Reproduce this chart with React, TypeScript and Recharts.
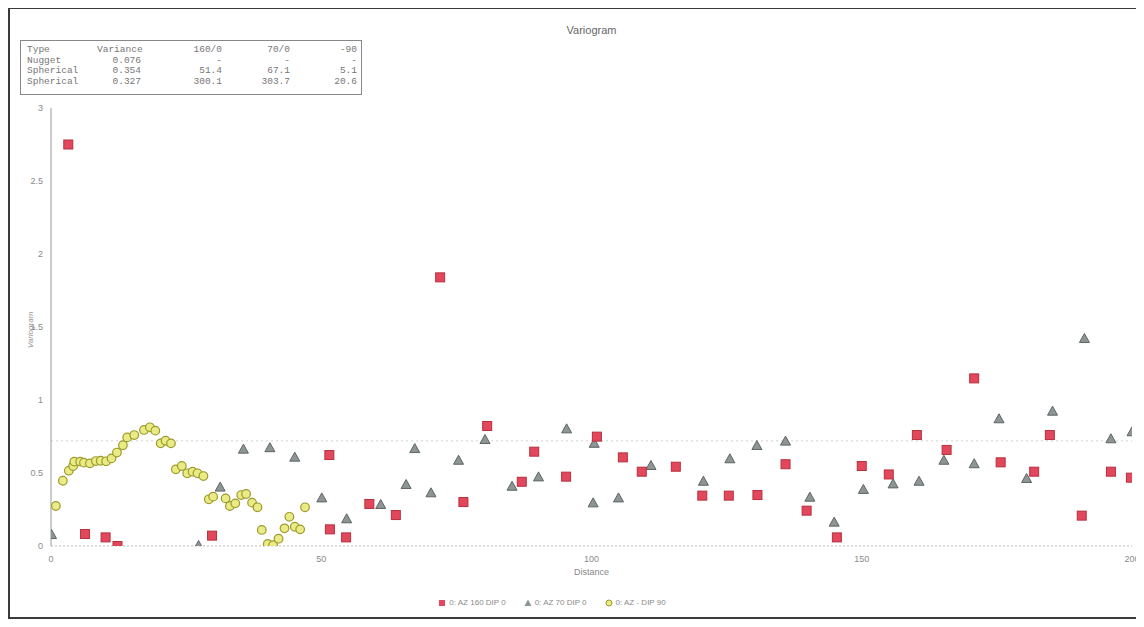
import { ScatterChart, Scatter, XAxis, YAxis, ReferenceLine } from "recharts";

const xTicks = [0, 50, 100, 150, 200];
const yTicks = [0, 0.5, 1, 1.5, 2, 2.5, 3];
const sillLevel = 0.72;

const seriesNames = ["0: AZ 160 DIP 0", "0: AZ 70 DIP 0", "0: AZ - DIP 90"];

// red squares
const az160 = [
  { d: 3.2, g: 2.75 }, { d: 6.3, g: 0.082 }, { d: 10.1, g: 0.059 }, { d: 12.3, g: 0.0 },
  { d: 29.8, g: 0.071 }, { d: 51.5, g: 0.623 }, { d: 51.6, g: 0.114 }, { d: 54.6, g: 0.059 },
  { d: 58.9, g: 0.288 }, { d: 63.8, g: 0.212 }, { d: 72.0, g: 1.84 }, { d: 76.3, g: 0.301 },
  { d: 80.7, g: 0.822 }, { d: 87.1, g: 0.44 }, { d: 89.4, g: 0.646 }, { d: 95.3, g: 0.475 },
  { d: 101.0, g: 0.749 }, { d: 105.8, g: 0.607 }, { d: 109.3, g: 0.509 }, { d: 115.6, g: 0.543 },
  { d: 120.5, g: 0.345 }, { d: 125.4, g: 0.345 }, { d: 130.7, g: 0.349 }, { d: 135.9, g: 0.56 },
  { d: 139.8, g: 0.242 }, { d: 145.4, g: 0.059 }, { d: 150.0, g: 0.548 }, { d: 155.0, g: 0.49 },
  { d: 160.2, g: 0.76 }, { d: 165.7, g: 0.658 }, { d: 170.8, g: 1.148 }, { d: 175.7, g: 0.573 },
  { d: 181.9, g: 0.509 }, { d: 184.8, g: 0.76 }, { d: 190.7, g: 0.208 }, { d: 196.1, g: 0.509 },
  { d: 199.8, g: 0.468 },
];

// grey triangles
const az70 = [
  { d: 0.1, g: 0.075 }, { d: 27.3, g: 0.0 }, { d: 31.3, g: 0.4 }, { d: 35.6, g: 0.66 },
  { d: 40.5, g: 0.67 }, { d: 45.1, g: 0.605 }, { d: 50.1, g: 0.326 }, { d: 54.7, g: 0.183 },
  { d: 61.0, g: 0.281 }, { d: 65.7, g: 0.418 }, { d: 67.3, g: 0.664 }, { d: 70.3, g: 0.361 },
  { d: 75.4, g: 0.584 }, { d: 80.3, g: 0.726 }, { d: 85.3, g: 0.406 }, { d: 90.2, g: 0.47 },
  { d: 95.4, g: 0.799 }, { d: 100.3, g: 0.292 }, { d: 100.5, g: 0.7 }, { d: 105.0, g: 0.326 },
  { d: 111.0, g: 0.548 }, { d: 120.7, g: 0.44 }, { d: 125.6, g: 0.594 }, { d: 130.6, g: 0.685 },
  { d: 135.9, g: 0.715 }, { d: 140.4, g: 0.331 }, { d: 144.9, g: 0.16 }, { d: 150.3, g: 0.384 },
  { d: 155.8, g: 0.422 }, { d: 160.6, g: 0.44 }, { d: 165.2, g: 0.584 }, { d: 170.8, g: 0.56 },
  { d: 175.4, g: 0.868 }, { d: 180.5, g: 0.459 }, { d: 185.3, g: 0.92 }, { d: 191.2, g: 1.418 },
  { d: 196.1, g: 0.731 }, { d: 200.0, g: 0.779 },
];

// yellow circles
const dip90 = [
  { d: 0.9, g: 0.274 }, { d: 2.2, g: 0.447 }, { d: 3.3, g: 0.516 }, { d: 4.1, g: 0.548 },
  { d: 4.3, g: 0.578 }, { d: 5.4, g: 0.578 }, { d: 6.1, g: 0.571 }, { d: 7.2, g: 0.566 },
  { d: 8.3, g: 0.582 }, { d: 9.2, g: 0.584 }, { d: 10.2, g: 0.58 }, { d: 11.2, g: 0.6 },
  { d: 12.2, g: 0.64 }, { d: 13.3, g: 0.69 }, { d: 14.1, g: 0.744 }, { d: 15.4, g: 0.76 },
  { d: 17.2, g: 0.795 }, { d: 18.3, g: 0.813 }, { d: 19.3, g: 0.79 }, { d: 20.3, g: 0.703 },
  { d: 21.2, g: 0.721 }, { d: 22.2, g: 0.703 }, { d: 23.1, g: 0.525 }, { d: 24.2, g: 0.548 },
  { d: 25.2, g: 0.498 }, { d: 26.2, g: 0.509 }, { d: 27.1, g: 0.498 }, { d: 28.2, g: 0.479 },
  { d: 29.2, g: 0.32 }, { d: 30.0, g: 0.338 }, { d: 32.3, g: 0.326 }, { d: 33.1, g: 0.274 },
  { d: 34.1, g: 0.292 }, { d: 35.2, g: 0.349 }, { d: 36.1, g: 0.356 }, { d: 37.2, g: 0.297 },
  { d: 38.2, g: 0.265 }, { d: 39.0, g: 0.11 }, { d: 40.1, g: 0.014 }, { d: 41.1, g: 0.005 },
  { d: 42.1, g: 0.05 }, { d: 43.2, g: 0.121 }, { d: 44.1, g: 0.2 }, { d: 45.1, g: 0.132 },
  { d: 46.1, g: 0.114 }, { d: 47.0, g: 0.265 },
];

const modelHeader = ["Type", "Variance", "160/0", "70/0", "-90"];
const modelRows = [
  ["Nugget", "0.076", "-", "-", "-"],
  ["Spherical", "0.354", "51.4", "67.1", "5.1"],
  ["Spherical", "0.327", "300.1", "303.7", "20.6"],
];

const RED = "#e3475b";
const RED_EDGE = "#b5303f";
const GREY = "#8d9595";
const GREY_EDGE = "#5d6565";
const YEL = "#ebeb85";
const YEL_EDGE = "#9b9b2e";

const SquareDot = (p: any) => (
  <rect x={p.cx - 4.5} y={p.cy - 4.5} width={9} height={9} fill={RED} stroke={RED_EDGE} strokeWidth={1} />
);
const TriDot = (p: any) => (
  <path
    d={`M${p.cx},${p.cy - 5.5} L${p.cx + 5},${p.cy + 3.5} L${p.cx - 5},${p.cy + 3.5} Z`}
    fill={GREY}
    stroke={GREY_EDGE}
    strokeWidth={1}
  />
);
const CircleDot = (p: any) => (
  <circle cx={p.cx} cy={p.cy} r={4.3} fill={YEL} stroke={YEL_EDGE} strokeWidth={1.2} />
);

const tickStyle = { fontSize: 9, fill: "#8a8a8a", fontFamily: "Liberation Sans" };
const colRight = [false, true, true, true, true];
const colWidths = [70, 44, 81, 68, 67];

function ModelTable() {
  const rows = [modelHeader, ...modelRows];
  return (
    <div
      style={{
        position: "absolute",
        left: 20,
        top: 40,
        width: 342,
        height: 55,
        border: "1px solid #888",
        background: "#fff",
        fontFamily: "Liberation Mono",
        fontSize: 9.5,
        lineHeight: "10.5px",
        color: "#777",
        padding: "4px 6px",
        boxSizing: "border-box",
      }}
    >
      {rows.map((r, i) => (
        <div key={i} style={{ display: "flex" }}>
          {r.map((c, j) => (
            <div key={j} style={{ width: colWidths[j], textAlign: colRight[j] ? "right" : "left", flexShrink: 0 }}>
              {c}
            </div>
          ))}
        </div>
      ))}
    </div>
  );
}

function LegendRow() {
  const icons = [
    <rect x={1} y={1} width={6} height={6} fill={RED} />,
    <path d="M4,0.5 L7.5,7 L0.5,7 Z" fill={GREY} />,
    <circle cx={4} cy={4} r={3} fill={YEL} stroke={YEL_EDGE} />,
  ];
  return (
    <div
      style={{
        position: "absolute",
        left: 0,
        top: 598,
        width: 1144,
        display: "flex",
        justifyContent: "center",
        gap: 18,
        fontFamily: "Liberation Sans",
        fontSize: 8,
        color: "#8a8a8a",
        paddingRight: 40,
        boxSizing: "border-box",
      }}
    >
      {seriesNames.map((n, i) => (
        <div key={n} style={{ display: "flex", alignItems: "center", gap: 3 }}>
          <svg width={8} height={8}>{icons[i]}</svg>
          <span>{n}</span>
        </div>
      ))}
    </div>
  );
}

export default function App() {
  return (
    <div style={{ position: "relative", width: 1144, height: 627, margin: -8, background: "#fff", overflow: "hidden" }}>
      <div
        style={{
          position: "absolute",
          left: 8,
          top: 7,
          width: 1150,
          height: 612,
          border: "2px solid #3a3a3a",
          boxSizing: "border-box",
        }}
      />
      <div
        style={{
          position: "absolute",
          left: 0,
          top: 24,
          width: 1183,
          textAlign: "center",
          fontFamily: "Liberation Sans",
          fontSize: 11,
          color: "#666",
        }}
      >
        Variogram
      </div>
      <div
        style={{
          position: "absolute",
          left: 30,
          top: 330,
          transform: "translate(-50%, -50%) rotate(-90deg)",
          fontFamily: "Liberation Sans",
          fontStyle: "italic",
          fontSize: 8,
          color: "#999",
        }}
      >
        Variogram
      </div>
      <div style={{ position: "absolute", left: 0, top: 0 }}>
        <ScatterChart width={1144} height={627} margin={{ top: 108, right: 12, bottom: 51, left: 21 }}>
          <XAxis
            type="number"
            dataKey="d"
            domain={[0, 200]}
            ticks={xTicks}
            allowDataOverflow
            stroke="#bbb"
            strokeDasharray="2 2"
            tickLine={false}
            tickSize={4}
            tickMargin={6}
            tick={tickStyle}
            height={30}
            label={{
              value: "Distance",
              position: "insideBottom",
              offset: 1,
              style: { fontSize: 9, fill: "#888", fontFamily: "Liberation Sans" },
            }}
          />
          <YAxis
            type="number"
            dataKey="g"
            domain={[0, 3]}
            ticks={yTicks}
            allowDataOverflow
            stroke="#999"
            tickLine={false}
            tickSize={4}
            tickMargin={4}
            tick={tickStyle}
            width={30}
          />
          <ReferenceLine y={sillLevel} stroke="#d0d0d0" strokeDasharray="2 3" />
          <Scatter name={seriesNames[2]} data={dip90} shape={CircleDot} isAnimationActive={false} />
          <Scatter name={seriesNames[1]} data={az70} shape={TriDot} isAnimationActive={false} />
          <Scatter name={seriesNames[0]} data={az160} shape={SquareDot} isAnimationActive={false} />
        </ScatterChart>
      </div>
      <ModelTable />
      <LegendRow />
    </div>
  );
}
